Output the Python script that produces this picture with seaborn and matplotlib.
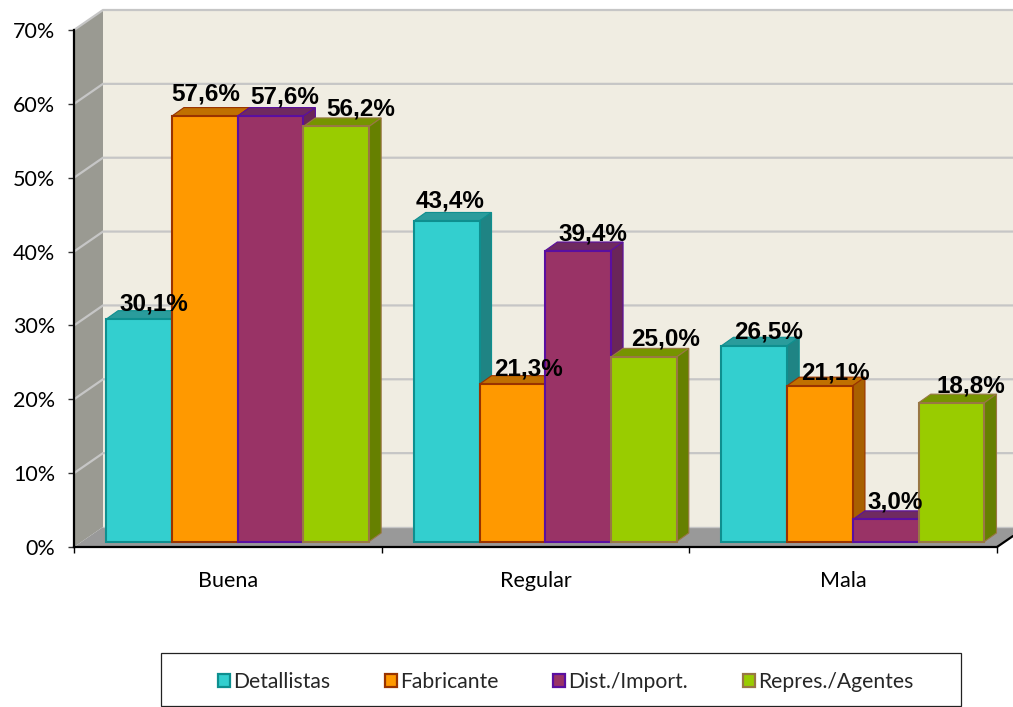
import matplotlib
matplotlib.use("Agg")
import matplotlib.pyplot as plt
import pandas as pd
import seaborn as sns
from matplotlib.patches import Polygon
from matplotlib.transforms import Affine2D

# values
categories = ["Buena", "Regular", "Mala"]
series = ["Detallistas", "Fabricante", "Dist./Import.", "Repres./Agentes"]
detallistas = [30.1, 43.4, 26.5]
fabricante = [57.6, 21.3, 21.1]
distribuidor = [57.6, 39.4, 3.0]
representantes = [56.2, 25.0, 18.8]
y_ticks = [0, 10, 20, 30, 40, 50, 60, 70]

# colours per series
face = ["#33CFCF", "#FF9900", "#993366", "#99CC00"]
edge = ["#0E8F8F", "#993300", "#5A0FA0", "#997744"]
top_col = ["#2A9C9C", "#C07000", "#6F2A60", "#769400"]
side_col = ["#1F8484", "#A86000", "#6A2558", "#668000"]

# label offsets from the top centre of each bar, in pixels (one row per series)
label_dx = [[14.5, 3.5, 14], [0.5, 16.5, 15], [14, 14.5, 9], [24.5, 21.5, 19.5]]
label_dy = [[8.4, 13, 7], [16, 9, 6], [13, 10, 11], [11, 11, 10]]

W, H = 1013, 707
L, R, T, B = 74, 997, 30, 547

df = pd.DataFrame({
    "cat": categories * 4,
    "serie": [s for s in series for _ in categories],
    "val": detallistas + fabricante + distribuidor + representantes,
})

sns.set_style("white")
plt.rcParams["font.family"] = ["Lato", "DejaVu Sans"]

fig = plt.figure(figsize=(W / 100, H / 100), dpi=100)
ax = fig.add_axes([L / W, 1 - B / H, (R - L) / W, (B - T) / H])

sns.barplot(data=df, x="cat", y="val", hue="serie", hue_order=series, order=categories,
            palette=face, saturation=1, width=0.855, gap=0, ax=ax, zorder=10)
ax.set_xlim(-0.5, 2.5)
ax.set_ylim(0, 70)
ax.set_xlabel("")
ax.set_ylabel("")
ax.patch.set_alpha(0)

xpx = 3 / (R - L)
ypx = 70 / (B - T)
wall_dx, wall_dy = 29 * xpx, 20 * ypx
x0 = -0.5
x1 = 2.5
x_end = x1 + (W - R) * xpx

# back wall, side wall, floor
ax.add_patch(Polygon([(x0 + wall_dx, wall_dy), (x_end, wall_dy), (x_end, 70 + wall_dy), (x0 + wall_dx, 70 + wall_dy)],
                     fc="#F0EDE2", ec="none", clip_on=False, zorder=1))
ax.add_patch(Polygon([(x0, 0), (x0 + wall_dx, wall_dy), (x0 + wall_dx, 70 + wall_dy), (x0, 70)],
                     fc="#9A9A92", ec="none", clip_on=False, zorder=1))
ax.add_patch(Polygon([(x0, 0), (x0 + wall_dx, wall_dy), (x_end, wall_dy), (x_end, 11 * ypx), (x1, 0)],
                     fc="#999999", ec="none", clip_on=False, zorder=1.5))
for v in y_ticks[1:]:
    ax.plot([x0, x0 + wall_dx, x_end], [v, v + wall_dy, v + wall_dy], color="#C6C6C6", lw=1.6,
            clip_on=False, zorder=2, solid_joinstyle="miter")
ax.plot([x0 + wall_dx, x_end], [wall_dy, wall_dy], color="#C6C6C6", lw=1, clip_on=False, zorder=1.6)
ax.plot([x1, x_end], [0, 11 * ypx], color="black", lw=1.6, clip_on=False, zorder=3)

# front of bars sits a little up and right of the axis
shift = ax.transData + Affine2D().translate(9.8, 5.5)
depth_x, depth_y = 12 * xpx, 8.5 * ypx

for i, cont in enumerate(ax.containers):
    for j, p in enumerate(cont.patches):
        z = 10 + i
        p.set_transform(shift)
        p.set_clip_on(False)
        p.set_facecolor(face[i])
        p.set_edgecolor(edge[i])
        p.set_linewidth(1.5)
        p.set_zorder(z + 0.2)
        bx, bw, bh = p.get_x(), p.get_width(), p.get_height()
        top = Polygon([(bx, bh), (bx + depth_x, bh + depth_y), (bx + bw + depth_x, bh + depth_y), (bx + bw, bh)],
                      fc=top_col[i], ec=edge[i], lw=0.8, transform=shift, clip_on=False, zorder=z)
        side = Polygon([(bx + bw, 0), (bx + bw + depth_x, depth_y), (bx + bw + depth_x, bh + depth_y), (bx + bw, bh)],
                       fc=side_col[i], ec=edge[i], lw=0.8, transform=shift, clip_on=False, zorder=z)
        ax.add_patch(top)
        ax.add_patch(side)
        ax.annotate(f"{bh:.1f}%".replace(".", ","), xy=(bx + bw / 2, bh), xycoords=shift,
                    xytext=(label_dx[i][j] * 0.72, label_dy[i][j] * 0.72), textcoords="offset points",
                    ha="center", va="baseline", fontsize=17.5, fontweight="bold",
                    family="Liberation Sans", color="black", zorder=30, annotation_clip=False)

# axes
sns.despine(ax=ax, top=True, right=True)
for s in ["left", "bottom"]:
    ax.spines[s].set_color("black")
    ax.spines[s].set_linewidth(1.6)
    ax.spines[s].set_zorder(5)
ax.set_yticks(y_ticks)
ax.set_yticklabels([f"{v}%" for v in y_ticks])
ax.set_xticks([0, 1, 2])
ax.set_xticks([-0.5, 0.5, 1.5, 2.5], minor=True)
ax.tick_params(axis="y", left=True, length=4.5, width=1, color="#333333", labelsize=15.5, pad=9, labelcolor="black")
ax.tick_params(axis="x", which="major", length=0, labelsize=15.5, pad=17, labelcolor="black")
ax.tick_params(axis="x", which="minor", bottom=True, length=4.5, width=1, color="black")

# legend box
handles, labels = ax.get_legend_handles_labels()
leg = ax.legend(handles, labels, ncol=4, loc="center",
                bbox_to_anchor=(565.5 / W, 1 - 682 / H), bbox_transform=fig.transFigure,
                frameon=False, fontsize=15.2, handlelength=0.56, handleheight=0.56,
                handletextpad=0.15, columnspacing=2.6, borderaxespad=0, borderpad=0)
leg.set_zorder(40)
for i, h in enumerate(leg.legend_handles):
    h.set_facecolor(face[i])
    h.set_edgecolor(edge[i])
    h.set_linewidth(1.6)
box = plt.Rectangle((161 / W, 1 - 706 / H), 800 / W, 53 / H, transform=fig.transFigure,
                    fc="white", ec="#222222", lw=0.9, clip_on=False, zorder=35)
ax.add_patch(box)

fig.savefig("out.png", dpi=100)
